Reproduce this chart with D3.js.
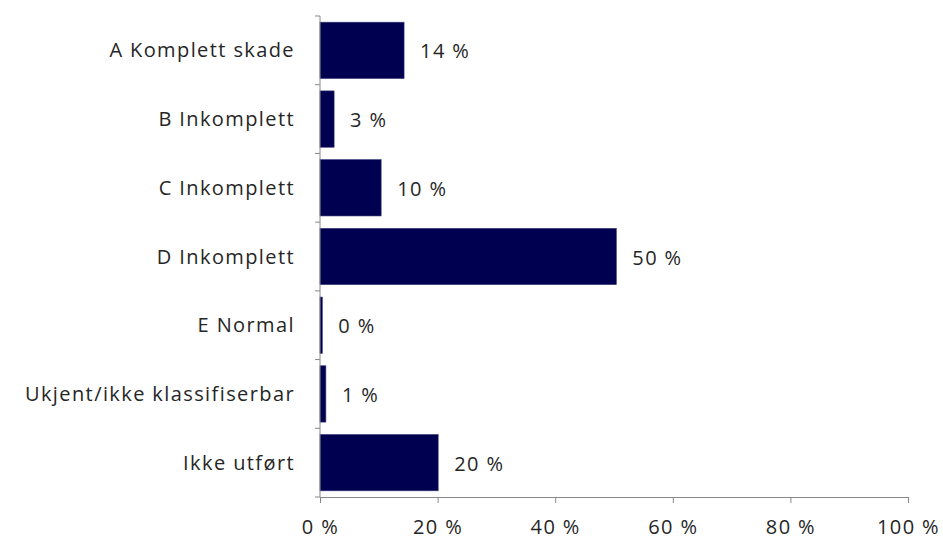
<!DOCTYPE html>
<html><head><meta charset="utf-8">
<script src="https://cdn.jsdelivr.net/npm/d3@7"></script>
<style>body{margin:0;background:#fff}text{font-family:"Open Sans",sans-serif}</style>
</head><body><svg id="c" width="943" height="543"></svg>
<script>
const categories = ["A Komplett skade","B Inkomplett","C Inkomplett","D Inkomplett","E Normal","Ukjent/ikke klassifiserbar","Ikke utført"];
const values = [14.3, 2.4, 10.4, 50.4, 0.4, 1.0, 20.1];
const valueLabels = ["14 %","3 %","10 %","50 %","0 %","1 %","20 %"];
const xTicks = [0,20,40,60,80,100];

const FS = 20, LS = 1.4;
const svg = d3.select("#c");
const m = {left:320, right:35, top:16, bottom:46};
const W = 943, H = 543;
const x = d3.scaleLinear().domain([0,100]).range([m.left, W-m.right]);
const y = d3.scaleBand().domain(categories).range([m.top, H-m.bottom]).paddingInner(0.18).paddingOuter(0.09);

svg.selectAll("rect.bar").data(categories).join("rect")
  .attr("x", x(0)).attr("y", d=>y(d))
  .attr("width", (d,i)=>x(values[i])-x(0)).attr("height", y.bandwidth())
  .attr("fill","#000050").attr("stroke","#3a3a78").attr("stroke-width",0.6);

svg.selectAll("text.vl").data(categories).join("text")
  .attr("x",(d,i)=>x(values[i])+16).attr("y",d=>y(d)+y.bandwidth()/2+1)
  .attr("dy","0.35em").attr("font-size",FS).attr("letter-spacing",LS).attr("fill","#262626")
  .text((d,i)=>valueLabels[i]);

// y axis
const yb = H-m.bottom;
const bandStep = (yb - m.top)/categories.length;
const g = svg.append("g");
g.append("line").attr("x1",x(0)).attr("x2",x(0)).attr("y1",m.top).attr("y2",yb).attr("stroke","#888");
for(let i=0;i<=categories.length;i++){
  const yy = m.top + i*bandStep;
  g.append("line").attr("x1",x(0)-5).attr("x2",x(0)).attr("y1",yy).attr("y2",yy).attr("stroke","#888");
}
svg.selectAll("text.cl").data(categories).join("text")
  .attr("x",x(0)-25).attr("y",d=>y(d)+y.bandwidth()/2).attr("dy","0.35em")
  .attr("text-anchor","end").attr("font-size",FS).attr("letter-spacing",LS).attr("fill","#262626").text(d=>d);

// x axis
const xa = svg.append("g").attr("transform",`translate(0,${yb})`)
  .call(d3.axisBottom(x).tickValues(xTicks).tickSize(6).tickSizeOuter(0).tickPadding(17).tickFormat(d=>d+" %"));
xa.select(".domain").attr("stroke","#888");
xa.selectAll(".tick line").attr("stroke","#888");
xa.selectAll(".tick text").attr("font-size",FS).attr("letter-spacing",LS).attr("fill","#262626").attr("font-family","'Open Sans',sans-serif");
</script></body></html>
